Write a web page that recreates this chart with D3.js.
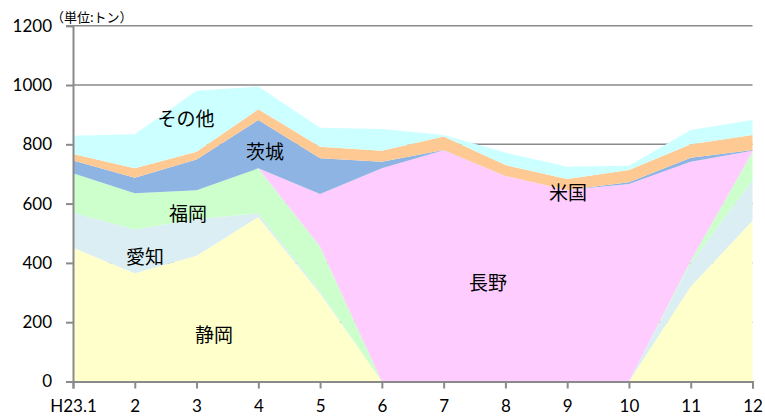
<!DOCTYPE html>
<html>
<head>
<meta charset="utf-8">
<script src="https://cdn.jsdelivr.net/npm/d3@7"></script>
<style>
  body { margin: 0; background: #fff; }
  svg { display: block; }
</style>
</head>
<body>
<div id="chart"></div>
<script>
// months (H23 = 2011)
var months = ["H23.1", "2", "3", "4", "5", "6", "7", "8", "9", "10", "11", "12"];

// tonnes per source
var shizuoka = [451, 365, 424, 555, 297, 0, 0, 0, 0, 0, 320, 542];
var aichi    = [118, 148, 123, 12, 6, 0, 0, 0, 0, 0, 79, 138];
var fukuoka  = [133, 122, 98, 152, 152, 0, 0, 0, 0, 0, 8, 95];
var nagano   = [0, 0, 0, 0, 177, 719, 780, 693, 646, 666, 334, 3];
var ibaraki  = [43, 52, 104, 163, 121, 22, 1, 0, 0, 6, 14, 3];
var usa      = [22, 32, 26, 36, 39, 37, 45, 37, 37, 41, 45, 50];
var others   = [62, 115, 206, 77, 64, 74, 5, 42, 41, 15, 48, 51];

var seriesNames = ["静岡", "愛知", "福岡", "長野", "茨城", "米国", "その他"];
var yTicks = [0, 200, 400, 600, 800, 1000, 1200];

var colors = {
    "静岡": "#FFFFCC",
    "愛知": "#DAEEF3",
    "福岡": "#CCFFCC",
    "長野": "#FFCCFF",
    "茨城": "#8DB4E2",
    "米国": "#FFC994",
    "その他": "#CCFFFF"
};

// label placement (pixel positions in the chart)
var labelPos = {
    "静岡": [214, 333],
    "愛知": [145, 255],
    "福岡": [188, 212],
    "長野": [488, 281],
    "茨城": [265, 150],
    "米国": [568, 191],
    "その他": [186, 117]
};

function plot() {
    var rows = months.map(function(m, i) {
        return {
            month: m,
            "静岡": shizuoka[i],
            "愛知": aichi[i],
            "福岡": fukuoka[i],
            "長野": nagano[i],
            "茨城": ibaraki[i],
            "米国": usa[i],
            "その他": others[i]
        };
    });

    var W = 765, H = 419;
    var margin = {left: 73, right: 752.5, top: 25.7, bottom: 381.5};

    var svg = d3.select("#chart").append("svg")
        .attr("width", W)
        .attr("height", H);

    var x = d3.scalePoint()
        .domain(months)
        .range([margin.left, margin.right]);

    var y = d3.scaleLinear()
        .domain([0, 1200])
        .range([margin.bottom, margin.top]);

    // gridlines (behind the areas)
    svg.append("g")
        .selectAll("line")
        .data(yTicks.slice(1))
        .enter()
        .append("line")
            .attr("x1", margin.left)
            .attr("x2", margin.right)
            .attr("y1", function(d) { return y(d); })
            .attr("y2", function(d) { return y(d); })
            .attr("stroke", "#8a8a8a")
            .attr("stroke-width", 1.5);

    var layers = d3.stack().keys(seriesNames)(rows);

    var area = d3.area()
        .x(function(d) { return x(d.data.month); })
        .y0(function(d) { return y(d[0]); })
        .y1(function(d) { return y(d[1]); });

    svg.append("g")
        .selectAll("path")
        .data(layers)
        .enter()
        .append("path")
            .attr("fill", function(d) { return colors[d.key]; })
            .attr("d", area);

    // y axis
    var yAxis = svg.append("g")
        .attr("transform", "translate(" + margin.left + ",0)")
        .call(d3.axisLeft(y).tickValues(yTicks).tickFormat(d3.format("d")).tickSize(7).tickPadding(14));

    // x axis
    var xAxis = svg.append("g")
        .attr("transform", "translate(0," + margin.bottom + ")")
        .call(d3.axisBottom(x).tickSize(7).tickPadding(11));

    [yAxis, xAxis].forEach(function(ax) {
        ax.select(".domain").attr("stroke", "#8a8a8a").attr("stroke-width", 2);
        ax.selectAll(".tick line").attr("stroke", "#8a8a8a").attr("stroke-width", 2);
        ax.selectAll("text")
            .attr("fill", "#000")
            .style("font-family", "Lato, 'Liberation Sans', sans-serif")
            .style("font-size", "17px");
    });

    // unit label
    svg.append("text")
        .attr("x", 51)
        .attr("y", 22)
        .style("font-family", "'Noto Sans CJK JP', sans-serif")
        .style("font-size", "13px")
        .attr("fill", "#000")
        .text("（単位:トン）");

    // series labels
    svg.append("g")
        .selectAll("text")
        .data(seriesNames)
        .enter()
        .append("text")
            .attr("x", function(d) { return labelPos[d][0]; })
            .attr("y", function(d) { return labelPos[d][1]; })
            .attr("text-anchor", "middle")
            .attr("dominant-baseline", "central")
            .style("font-family", "'Noto Sans CJK JP', sans-serif")
            .style("font-size", "19px")
            .attr("fill", "#000")
            .text(function(d) { return d; });
}

plot();
</script>
</body>
</html>
